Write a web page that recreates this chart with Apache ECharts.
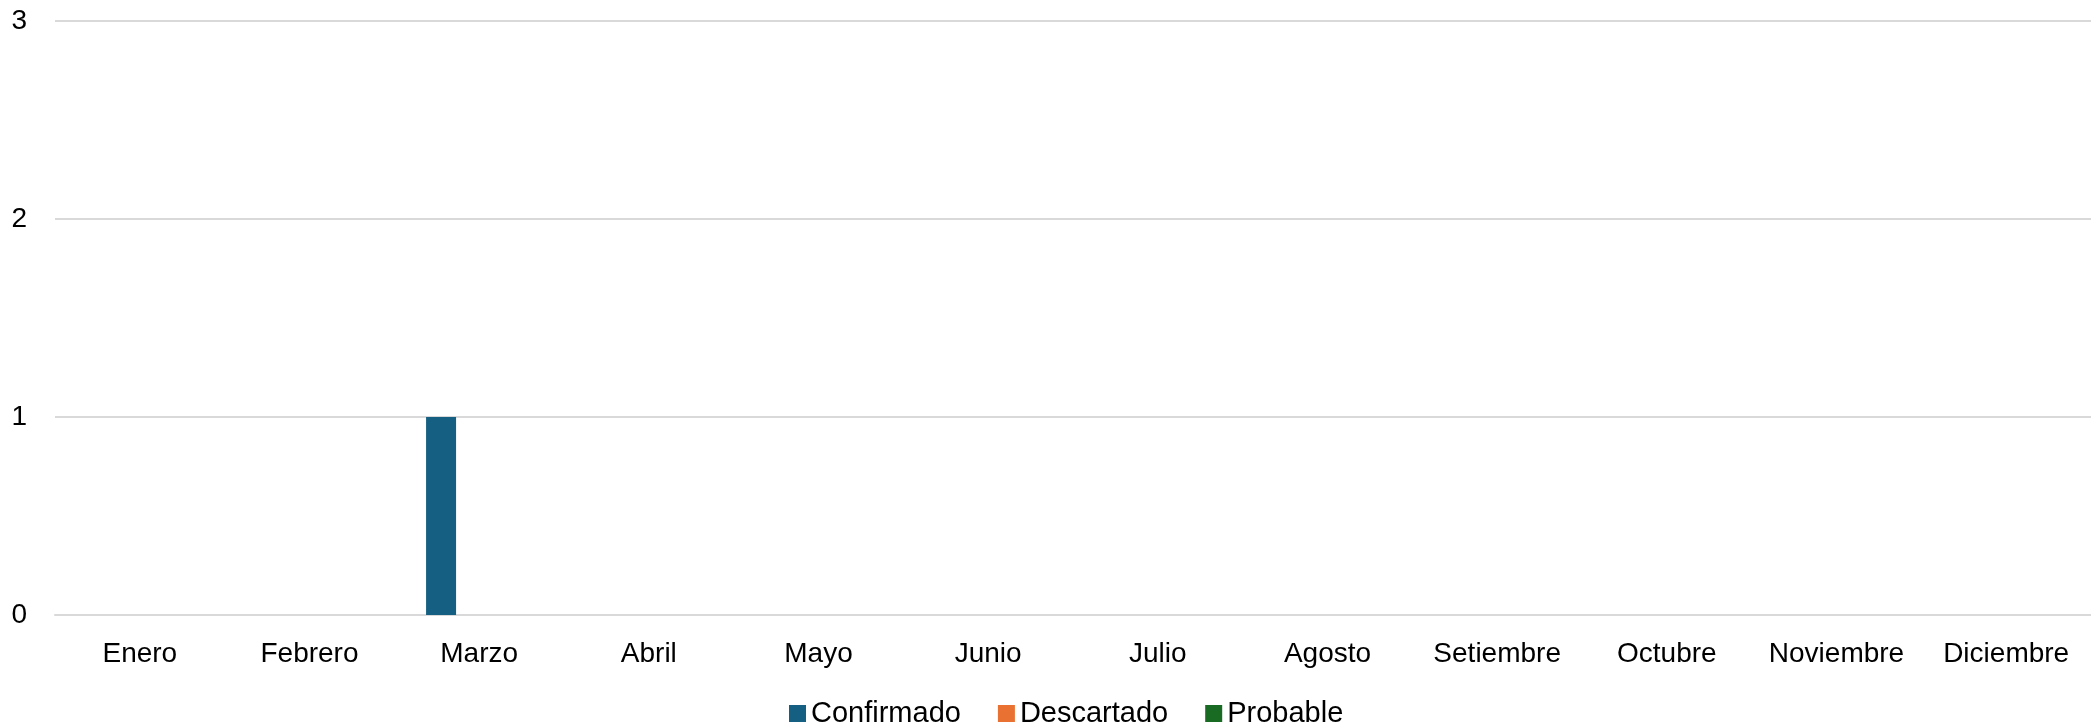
<!DOCTYPE html>
<html>
<head>
<meta charset="utf-8">
<script src="https://cdn.jsdelivr.net/npm/echarts@6/dist/echarts.min.js"></script>
<style>
  html, body { margin: 0; padding: 0; background: #fff; }
  #chart { width: 2091px; height: 724px; }
</style>
</head>
<body>
<div id="chart"></div>
<script>
var meses = ['Enero', 'Febrero', 'Marzo', 'Abril', 'Mayo', 'Junio', 'Julio', 'Agosto', 'Setiembre', 'Octubre', 'Noviembre', 'Diciembre'];
var confirmado = [0, 0, 1, 0, 0, 0, 0, 0, 0, 0, 0, 0];
var descartado = [0, 0, 0, 0, 0, 0, 0, 0, 0, 0, 0, 0];
var probable = [0, 0, 0, 0, 0, 0, 0, 0, 0, 0, 0, 0];
var yTicks = [0, 1, 2, 3];

var chart = echarts.init(document.getElementById('chart'));
var font = 'Liberation Sans, Arial, sans-serif';

function serie(name, data, color) {
  return {
    name: name,
    type: 'bar',
    data: data,
    barWidth: 30,
    barGap: '27%',
    itemStyle: { color: color }
  };
}

chart.setOption({
  animation: false,
  grid: { left: 55, right: 0, top: 21, bottom: 109 },
  legend: {
    left: 789,
    top: 699,
    itemWidth: 17,
    itemHeight: 17,
    itemGap: 37,
    icon: 'rect',
    padding: 0,
    textStyle: { fontFamily: font, fontSize: 29, color: '#000', padding: 0 },
    data: ['Confirmado', 'Descartado', 'Probable']
  },
  xAxis: {
    type: 'category',
    data: meses,
    axisTick: { show: false },
    axisLine: { lineStyle: { color: '#d9d9d9', width: 2 } },
    axisLabel: { fontFamily: font, fontSize: 28, color: '#000', margin: 25, interval: 0 }
  },
  yAxis: {
    type: 'value',
    min: yTicks[0],
    max: yTicks[yTicks.length - 1],
    interval: 1,
    axisLine: { show: false },
    axisTick: { show: false },
    splitLine: { lineStyle: { color: '#d9d9d9', width: 2 } },
    axisLabel: { fontFamily: font, fontSize: 28, color: '#000', margin: 28 }
  },
  series: [
    serie('Confirmado', confirmado, '#156082'),
    serie('Descartado', descartado, '#E97132'),
    serie('Probable', probable, '#196B24')
  ]
});
</script>
</body>
</html>
